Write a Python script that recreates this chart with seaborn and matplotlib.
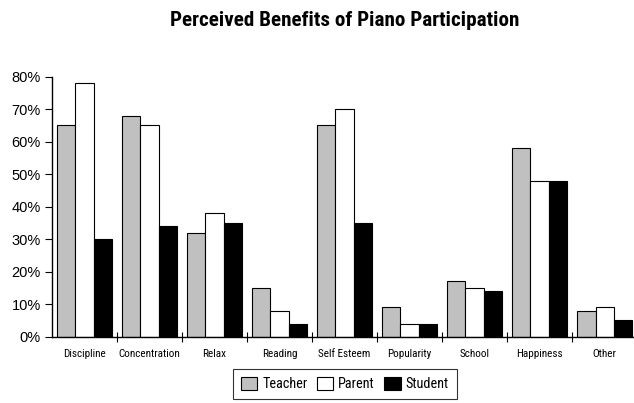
import matplotlib
matplotlib.use("Agg")
import matplotlib.pyplot as plt
import seaborn as sns
import pandas as pd
import numpy as np
from matplotlib.ticker import FixedLocator, PercentFormatter
from matplotlib.patches import Patch

categories = ["Discipline", "Concentration", "Relax", "Reading", "Self Esteem",
              "Popularity", "School", "Happiness", "Other"]
teacher = [65, 68, 32, 15, 65, 9, 17, 58, 8]
parent = [78, 65, 38, 8, 70, 4, 15, 48, 9]
student = [30, 34, 35, 4, 35, 4, 14, 48, 5]
groups = ["Teacher", "Parent", "Student"]
colors = ["#c0c0c0", "#ffffff", "#000000"]

df = pd.DataFrame({
    "cat": categories * 3,
    "val": teacher + parent + student,
    "group": ["Teacher"] * 9 + ["Parent"] * 9 + ["Student"] * 9,
})

sns.set_style("white")
narrow = ["Roboto Condensed", "Archivo Narrow", "DejaVu Sans"]
plt.rcParams["font.family"] = ["Liberation Sans", "DejaVu Sans"]
plt.rcParams["text.color"] = "black"
plt.rcParams["xtick.color"] = "black"
plt.rcParams["ytick.color"] = "black"

fig = plt.figure(figsize=(6.34, 4.03), dpi=100)
ax = fig.add_axes([52 / 634, 66.3 / 403, 1 - 52 / 634, 260 / 403])

sns.barplot(data=df, x="cat", y="val", hue="group", order=categories,
            hue_order=groups, palette=colors, saturation=1, width=0.85,
            edgecolor="black", linewidth=0.8, ax=ax, legend=False)

ax.set_xlim(-0.5, 8.45)
ax.set_ylim(0, 80)
ax.set_yticks(np.arange(0, 81, 10))
ax.yaxis.set_major_formatter(PercentFormatter(decimals=0))
ax.tick_params(axis="y", direction="out", length=5, width=0.8, labelsize=10.5,
               left=True, color="black", pad=3)
ax.tick_params(axis="x", which="major", length=0, labelsize=8, pad=9)
ax.xaxis.set_minor_locator(FixedLocator(np.arange(0.5, 8.5, 1.0)))
ax.tick_params(axis="x", which="minor", direction="inout", length=7, width=0.8,
               bottom=True, color="black")
for lab in ax.get_xticklabels():
    lab.set_family(narrow)
ax.set_xlabel("")
ax.set_ylabel("")
for s in ["top", "right"]:
    ax.spines[s].set_visible(False)
for s in ["left", "bottom"]:
    ax.spines[s].set_color("black")
    ax.spines[s].set_linewidth(1.0)

fig.text(345 / 634, 1 - 21 / 403, "Perceived Benefits of Piano Participation",
         ha="center", va="center", fontsize=15.2, fontweight="bold", family=narrow)

handles = [Patch(facecolor=c, edgecolor="black", linewidth=0.8) for c in colors]
leg = fig.legend(handles, groups, loc="upper left",
                 bbox_to_anchor=(233 / 634, 1 - 369 / 403), ncol=3,
                 frameon=True, fancybox=False, borderpad=0.55,
                 handlelength=1.15, handleheight=1.0, handletextpad=0.35,
                 columnspacing=0.65, prop={"family": narrow, "size": 10.3},
                 borderaxespad=0)
leg.get_frame().set_edgecolor("black")
leg.get_frame().set_linewidth(0.8)

fig.savefig("out.png", dpi=100)
